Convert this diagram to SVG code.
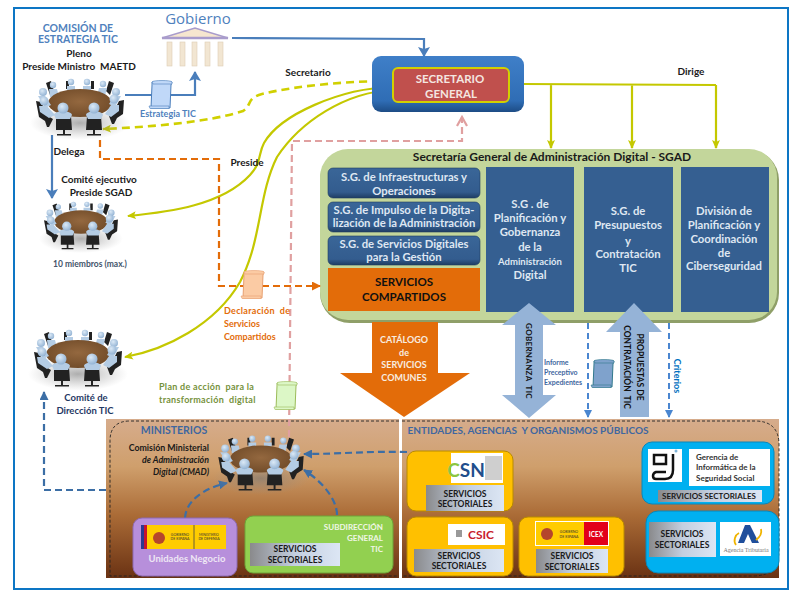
<svg xmlns="http://www.w3.org/2000/svg" width="798" height="592" viewBox="0 0 798 592">
<style>
text{font-family:Lato,"Liberation Sans",sans-serif;text-anchor:middle;white-space:pre}
.b{font-weight:700}
.k{fill:#1a1a1a;font-size:10px;font-weight:700}
.w{fill:#dfe7f2;font-size:11.300px;font-weight:700}
.ss{fill:#1a1a1a;font-size:9.500px;font-weight:700}
.ye{fill:none;stroke:#c4c800;stroke-width:2.200}
.yd{fill:none;stroke:#d0d000;stroke-width:2.600;stroke-dasharray:8 5}
.or{fill:none;stroke:#e36c09;stroke-width:2.200;stroke-dasharray:7 4}
.pk{fill:none;stroke:#e0a0a0;stroke-width:2.200;stroke-dasharray:7 4}
.bd{fill:none;stroke:#3c6ea5;stroke-width:2.200;stroke-dasharray:7 4}
.lb{fill:none;stroke:#4a86d0;stroke-width:2;stroke-dasharray:6 4}
.bl{fill:none;stroke:#4a7ebb;stroke-width:2.200}
.col{fill:#355f91}
.sub{fill:url(#sec);stroke:#1f3d63;stroke-width:.6}
.pan{fill:url(#brown)}
.dash{fill:none;stroke:#222;stroke-width:.9;stroke-dasharray:3 2}
.ssb{fill:url(#grayblue)}
.yl{fill:#ffc000;stroke:#b88a00;stroke-width:1}
.cy{fill:#00b0f0;stroke:#0a86b8;stroke-width:1}
.head{fill:url(#skin)}
.body{fill:#b4cce4}
.chair{fill:#222}
</style>
<defs>
<linearGradient id="brown" x1="0" y1="0" x2="0" y2="1"><stop offset="0" stop-color="#d6ac8c"/><stop offset=".3" stop-color="#cf9f6c"/><stop offset=".6" stop-color="#ab6c37"/><stop offset="1" stop-color="#6a3213"/></linearGradient>
<linearGradient id="grayblue" x1="0" y1="0" x2="1" y2="0"><stop offset="0" stop-color="#8a8a8c"/><stop offset=".5" stop-color="#c3cfe0"/><stop offset="1" stop-color="#dce6f4"/></linearGradient>
<linearGradient id="sec" x1="0" y1="0" x2="0" y2="1"><stop offset="0" stop-color="#3a6698"/><stop offset=".8" stop-color="#335c8e"/><stop offset="1" stop-color="#1f3d63"/></linearGradient>
<linearGradient id="blbox" x1="0" y1="0" x2="0" y2="1"><stop offset="0" stop-color="#3f7fc8"/><stop offset=".8" stop-color="#2f6db5"/><stop offset="1" stop-color="#1d4c85"/></linearGradient>
<radialGradient id="shadow"><stop offset="0" stop-color="#777" stop-opacity=".6"/><stop offset="1" stop-color="#999" stop-opacity="0"/></radialGradient>
<radialGradient id="skin" cx=".4" cy=".35" r=".7"><stop offset="0" stop-color="#dbe9f6"/><stop offset="1" stop-color="#8fb0d2"/></radialGradient>
<radialGradient id="wood" cx=".5" cy=".45" r=".6"><stop offset="0" stop-color="#94683f"/><stop offset="1" stop-color="#6f4a28"/></radialGradient>
<marker id="aY" markerWidth="9" markerHeight="8" refX="8" refY="4" orient="auto" markerUnits="userSpaceOnUse"><path d="M0 0L9 4L0 8L2 4Z" fill="#c4c800"/></marker>
<marker id="aO" markerWidth="9" markerHeight="9" refX="8" refY="4.500" orient="auto" markerUnits="userSpaceOnUse"><path d="M0 0L9 4.500L0 9Z" fill="#e36c09"/></marker>
<marker id="aP" markerWidth="12" markerHeight="12" refX="10" refY="6" orient="auto" markerUnits="userSpaceOnUse"><path d="M1 1L10 6L1 11" fill="none" stroke="#e0a0a0" stroke-width="2.200"/></marker>
<marker id="aB" markerWidth="12" markerHeight="12" refX="10" refY="6" orient="auto" markerUnits="userSpaceOnUse"><path d="M1 0L11 6L1 12L3 6Z" fill="#4a7ebb"/></marker>
<marker id="aD" markerWidth="9" markerHeight="9" refX="8" refY="4.500" orient="auto" markerUnits="userSpaceOnUse"><path d="M0 0L9 4.500L0 9Z" fill="#3c6ea5"/></marker>
<marker id="aL" markerWidth="8" markerHeight="8" refX="7" refY="4" orient="auto" markerUnits="userSpaceOnUse"><path d="M0 0L8 4L0 8Z" fill="#4a86d0"/></marker>
<g id="table">
<ellipse cx="0" cy="20" rx="50" ry="17" fill="url(#shadow)"/>
<g class="chair"><path d="M-34-20l5-2 3 10-4 4zM34-20l-5-2-3 10 4 4zM-14-22h3v8h-3zM11-22h3v8h-3z"/></g>
<g class="body"><path d="M-31-14h8l2 8h-9zM-13-17h8v6h-8zM3-17h8v6H3zM19-15h8l-2 8h-8z"/></g>
<g class="head"><circle cx="-27" cy="-18" r="3.200"/><circle cx="-9" cy="-21" r="3.200"/><circle cx="7" cy="-21" r="3.200"/><circle cx="23" cy="-19" r="3.200"/></g>
<ellipse cx="0" cy="0" rx="32" ry="14" fill="url(#wood)"/>
<g class="chair"><path d="M-44-2l5 1 7 14 5 3-4 8h-2l-2-6-6-4zM44-3l-5 1-6 12-4 3 3 8h2l3-6 6-4z"/></g>
<g class="body"><path d="M-42-7h7l6 9-6 3zM41-7h-7l-5 8 6 3zM-41 3h8l8 9-6 3-9-6zM39 2h-8l-6 9 6 3 8-6z"/></g>
<g class="head"><circle cx="-37" cy="-11" r="4"/><circle cx="36" cy="-11" r="4"/><circle cx="-36" cy="-2" r="4.500"/><circle cx="34" cy="-4" r="4.500"/></g>
<g class="chair"><path d="M-24 13h15l1 14h-16zM7 13h14l1 14H6zM-17 27h2v4h6v1.500h-14V31h6zM13 27h2v4h6v1.500H7V31h6z"/></g>
<g class="body"><path d="M-26 12c1-5 17-5 18 0l-2 4h-14zM6 12c1-5 16-5 17 0l-2 4H8z"/></g>
<g class="head"><circle cx="-17" cy="5" r="5.500"/><circle cx="14" cy="5" r="5.500"/></g>
</g>
<g id="scroll">
<path d="M3 2h20l-1 3-1 23H2L3 5z" stroke-width="1"/>
<path d="M3 2c0-2 20-2 20 0v2H4zM0 26h20v2.500H1z" stroke-width=".6"/>
</g>
</defs>
<rect width="798" height="592" fill="#fff"/>
<rect id="frame" x="14" y="8" width="774" height="581" fill="none" stroke="#0d76c4" stroke-width="2"/>

<g id="panel-ministerios"><rect class="pan" x="106" y="419" width="293" height="159"/><path class="dash" d="M399 421H130q-20 0-20 20V576H399"/>
<text x="174" y="434" fill="#3f67a0" font-size="10.500" class="b">MINISTERIOS</text>
<text x="209" y="451" fill="#1a1a1a" font-size="8.800" class="b" style="text-anchor:end">Comisión Ministerial</text>
<text x="209" y="463" fill="#1a1a1a" font-size="8.800" class="b" font-style="italic" style="text-anchor:end">de Administración</text>
<text x="209" y="475" fill="#1a1a1a" font-size="8.800" class="b" font-style="italic" style="text-anchor:end">Digital (CMAD)</text></g>
<g id="panel-entidades"><rect class="pan" x="402" y="419" width="377" height="159"/><path class="dash" d="M402 421H755q24 0 24 24V550q0 26-26 26H402"/>
<text x="528" y="434" fill="#3f67a0" font-size="10" class="b">ENTIDADES, AGENCIAS  Y ORGANISMOS PÚBLICOS</text></g>

<g id="node-sgad"><rect x="320" y="150" width="459" height="173" rx="30" fill="#8f9f68"/><rect x="320" y="149" width="457" height="171" rx="28" fill="#c3d69b"/>
<text x="552" y="161" class="b" font-size="12" fill="#1a1a1a">Secretaría General de Administración Digital - SGAD</text></g>
<g id="node-infra"><rect class="sub" x="328" y="168" width="152" height="30" rx="5"/><text class="w" x="404" y="181">S.G. de Infraestructuras y</text><text class="w" x="404" y="195">Operaciones</text></g>
<g id="node-impulso"><rect class="sub" x="328" y="202" width="152" height="30" rx="5"/><text class="w" x="404" y="214">S.G. de Impulso de la Digita-</text><text class="w" x="404" y="227">lización de la Administración</text></g>
<g id="node-servicios"><rect class="sub" x="328" y="236" width="152" height="29" rx="5"/><text class="w" x="404" y="248">S.G. de Servicios Digitales</text><text class="w" x="404" y="261">para la Gestión</text></g>
<g id="node-compartidos"><rect x="328" y="268" width="152" height="43" fill="#e36c09"/><text x="404" y="286" class="b" font-size="11.500" fill="#111">SERVICIOS</text><text x="404" y="301" class="b" font-size="11.500" fill="#111">COMPARTIDOS</text></g>
<g id="node-planif"><rect class="col" x="486" y="167" width="88" height="145"/>
<text class="w" x="530" y="208">S.G . de</text><text class="w" x="530" y="222">Planificación y</text><text class="w" x="530" y="236">Gobernanza</text><text class="w" x="530" y="251">de la</text><text class="w" x="530" y="265" style="font-size:9.500px">Administración</text><text class="w" x="530" y="279">Digital</text></g>
<g id="node-presup"><rect class="col" x="584" y="167" width="89" height="145"/>
<text class="w" x="628" y="215">S.G. de</text><text class="w" x="628" y="229">Presupuestos</text><text class="w" x="628" y="245">y</text><text class="w" x="628" y="258">Contratación</text><text class="w" x="628" y="272">TIC</text></g>
<g id="node-division"><rect class="col" x="681" y="167" width="88" height="145"/>
<text class="w" x="724" y="215">División de</text><text class="w" x="724" y="229">Planificación y</text><text class="w" x="724" y="243">Coordinación</text><text class="w" x="724" y="257">de</text><text class="w" x="724" y="270">Ciberseguridad</text></g>

<g id="connectors">
<path class="bl" d="M232 38L424 39V56" marker-end="url(#aB)"/>
<path class="bl" d="M125 95H195V72" stroke-width="2.400" marker-end="url(#aB)"/>
<path class="bl" d="M52 135V198" stroke-width="2.400" marker-end="url(#aB)"/>
<path class="yd" d="M393 81C350 81 300 85 262 94C246 98 252 106 243 111C210 122 150 127 103 129" marker-end="url(#aY)"/>
<path class="ye" d="M393 87C340 88 280 115 264 143C258 154 262 162 250 175C222 205 170 212 128 216" marker-end="url(#aY)"/>
<path class="ye" d="M393 90C345 92 300 122 277 157C258 195 262 240 240 282C215 325 165 350 125 357" marker-end="url(#aY)"/>
<path class="ye" d="M524 84L716 85M551 84V148M632 85V148M716 85V148"/>
<path class="ye" d="M551 140V148" marker-end="url(#aY)"/><path class="ye" d="M632 140V148" marker-end="url(#aY)"/><path class="ye" d="M716 140V148" marker-end="url(#aY)"/>
<path class="or" d="M100 140V159H219V286H320" marker-end="url(#aO)"/>
<path class="pk" d="M289 437L292 141H462V117" marker-end="url(#aP)"/>
<path class="bd" d="M106 490H44V392" marker-end="url(#aD)"/>
<path class="bd" d="M407 452C370 451 340 454 304 454" marker-end="url(#aD)"/>
<path class="bd" d="M185 518C186 500 205 488 227 483" marker-end="url(#aD)"/>
<path class="bd" d="M337 515C337 498 320 480 304 470" marker-end="url(#aD)"/>
<path class="lb" d="M588 323V417" marker-end="url(#aL)"/>
<path class="lb" d="M669 323V417" marker-end="url(#aL)"/>
</g>

<g id="node-gobierno">
<text x="198" y="24" font-size="15" fill="#4f81bd" style="font-family:'Open Sans',Lato,sans-serif">Gobierno</text>
<path d="M162 38L195 28L228 38Z" fill="#f6e6cf" stroke="#a99ccc" stroke-width="1.500"/>
<path d="M162 38H228" stroke="#a99ccc" stroke-width="2.500"/>
<g fill="#f2e6d2" stroke="#dccdb4" stroke-width=".6"><rect x="167" y="42" width="5" height="24"/><rect x="180" y="42" width="5" height="24"/><rect x="192" y="42" width="5" height="24"/><rect x="205" y="42" width="5" height="24"/><rect x="218" y="42" width="5" height="24"/></g>
</g>

<g id="node-secretario"><rect x="372" y="56" width="152" height="56" rx="9" fill="url(#blbox)"/><rect x="393" y="68" width="116" height="34" rx="5" fill="#c0504d" stroke="#d2d000" stroke-width="2"/>
<text x="450" y="83" class="b" font-size="11.500" fill="#f4e6e0">SECRETARIO</text><text x="451" y="98" class="b" font-size="11.500" fill="#f4e6e0">GENERAL</text></g>

<g id="node-estrategia">
<text x="78" y="32" class="b" font-size="10.500" fill="#4f81bd">COMISIÓN DE</text><text x="78" y="43" class="b" font-size="10.500" fill="#4f81bd">ESTRATEGIA TIC</text>
<text x="79" y="57" class="k">Pleno</text><text x="79" y="70" class="k">Preside Ministro  MAETD</text>
<use href="#table" x="80" y="103"/></g>
<g id="node-ejecutivo">
<text x="99" y="183" class="k">Comité ejecutivo</text><text x="101" y="196" class="k">Preside SGAD</text>
<use href="#table" transform="translate(81 222) scale(.84)"/>
<text x="90" y="267" font-size="8.500" class="b" fill="#44546a">10 miembros (max.)</text></g>
<g id="node-direccion"><use href="#table" x="78" y="354"/>
<text x="86" y="401" class="b" font-size="9.500" fill="#1f3864">Comité de</text><text x="85" y="414" class="b" font-size="9.500" fill="#1f3864">Dirección TIC</text></g>
<g id="node-cmad"><use href="#table" transform="translate(261 459) scale(.97)"/></g>

<g id="doc-estrategia"><use href="#scroll" x="149" y="80" fill="#c0d8f8" stroke="#4a7ebb"/><text x="168" y="117" font-size="9" class="b" fill="#4f81bd">Estrategia TIC</text></g>
<g id="doc-declaracion"><use href="#scroll" x="241" y="270" fill="#fbcba4" stroke="#e8a070"/>
<text x="224" y="314" font-size="9" class="b" fill="#e36c09" style="text-anchor:start" letter-spacing=".3">Declaración  de</text><text x="224" y="327" font-size="9" class="b" fill="#e36c09" style="text-anchor:start">Servicios</text><text x="224" y="340" font-size="9" class="b" fill="#e36c09" style="text-anchor:start">Compartidos</text></g>
<g id="doc-plan"><use href="#scroll" x="274" y="381" fill="#dcf7c6" stroke="#9bbb59"/>
<text x="159" y="390" font-size="9" class="b" fill="#76923c" style="text-anchor:start" letter-spacing=".3">Plan de acción  para la</text><text x="159" y="403" font-size="9" class="b" fill="#76923c" style="text-anchor:start" letter-spacing=".3">transformación  digital</text></g>
<g id="doc-informe"><use href="#scroll" x="591" y="359" fill="#7fa2cc" stroke="#31788c"/>
<text x="544" y="365" font-size="7" class="b" fill="#3f67a0" style="text-anchor:start">Informe</text><text x="544" y="375" font-size="7" class="b" fill="#3f67a0" style="text-anchor:start">Preceptivo</text><text x="544" y="385" font-size="7" class="b" fill="#3f67a0" style="text-anchor:start">Expedientes</text></g>

<g id="node-catalogo"><path d="M372 322H438V373H470L404 417L340 373H372Z" fill="#e36c09"/>
<text x="404" y="343" class="b" font-size="9" fill="#f8ede0">CATÁLOGO</text><text x="404" y="356" class="b" font-size="9" fill="#f8ede0">de</text><text x="404" y="368" class="b" font-size="9" fill="#f8ede0">SERVICIOS</text><text x="404" y="381" class="b" font-size="9" fill="#f8ede0">COMUNES</text></g>
<g id="node-gobernanza"><path d="M529 303L556 325H543V395H556L529 418L502 395H515V325H502Z" fill="#95b3d7"/>
<text transform="translate(529 361) rotate(90)" dy="3" class="b" font-size="8" fill="#111" letter-spacing=".3">GOBERNANZA  TIC</text></g>
<g id="node-propuestas"><path d="M634 303L662 332H649V417H620V332H606Z" fill="#95b3d7"/>
<text transform="translate(640 367) rotate(90)" dy="3" class="b" font-size="8.500" fill="#111">PROPUESTAS DE</text>
<text transform="translate(627 367) rotate(90)" dy="3" class="b" font-size="8.500" fill="#111">CONTRATACIÓN  TIC</text></g>
<text transform="translate(677 376) rotate(90)" dy="3" class="b" font-size="9" fill="#0070c0">Criterios</text>

<g id="node-unidades"><rect x="133" y="518" width="104" height="58" rx="9" fill="#b78fdb" stroke="#8e6bb5"/>
<rect x="141" y="525" width="85" height="24" fill="#ffcc00"/><rect x="141" y="525" width="3" height="24" fill="#2b3990"/><rect x="144" y="525" width="3" height="24" fill="#c8102e"/>
<circle cx="159" cy="538" r="6" fill="#b5452c"/><path d="M194 525V549" stroke="#444" stroke-width=".8"/>
<text x="180" y="536" font-size="3.500" fill="#333">GOBIERNO</text><text x="180" y="540" font-size="3.500" fill="#333">DE ESPAÑA</text><text x="209" y="536" font-size="3.500" fill="#333">MINISTERIO</text><text x="209" y="540" font-size="3.500" fill="#333">DE DEFENSA</text>
<text x="187" y="562" class="b" font-size="9.500" fill="#eee6f4">Unidades Negocio</text></g>
<g id="node-subdireccion"><rect x="245" y="516" width="148" height="57" rx="8" fill="#92d050" stroke="#6ea338"/>
<text x="383" y="530" font-size="8" class="b" fill="#f0f6e6" style="text-anchor:end">SUBDIRECCIÓN</text><text x="383" y="541" font-size="8" class="b" fill="#f0f6e6" style="text-anchor:end">GENERAL</text><text x="383" y="552" font-size="8" class="b" fill="#f0f6e6" style="text-anchor:end">TIC</text>
<rect class="ssb" x="250" y="543" width="90" height="23"/><text class="ss" x="295" y="552" style="font-size:8.500px">SERVICIOS</text><text class="ss" x="295" y="563" style="font-size:8.500px">SECTORIALES</text></g>
<g id="node-csn"><rect class="yl" x="407" y="451" width="106" height="60" rx="9"/><rect x="451" y="453" width="52" height="30" fill="#fff"/>
<text x="466" y="477" font-size="19" class="b" fill="#1f4e8c"><tspan fill="#8cc63f">C</tspan>SN</text><rect x="485" y="456" width="17" height="24" fill="#cfcfcf"/>
<rect class="ssb" x="426" y="485" width="78" height="26"/><text class="ss" x="465" y="497" style="font-size:8.500px">SERVICIOS</text><text class="ss" x="465" y="507" style="font-size:8.500px">SECTORIALES</text></g>
<g id="node-csic"><rect class="yl" x="407" y="517" width="106" height="59" rx="9"/><rect x="448" y="524" width="57" height="21" fill="#fff"/>
<text x="481" y="539" font-size="12" class="b" fill="#c8202c">CSIC</text><rect x="456" y="530" width="6" height="7" fill="#999"/>
<rect class="ssb" x="414" y="549" width="90" height="23"/><text class="ss" x="459" y="559" style="font-size:8.500px">SERVICIOS</text><text class="ss" x="459" y="569" style="font-size:8.500px">SECTORIALES</text></g>
<g id="node-icex"><rect class="yl" x="519" y="517" width="105" height="59" rx="9"/><rect x="535" y="521" width="74" height="25" fill="#fff"/><rect x="536" y="522" width="49" height="23" fill="#ffcc00"/><rect x="584" y="522" width="24" height="23" fill="#e2001a"/>
<circle cx="547" cy="534" r="6" fill="#b5452c"/><text x="569" y="533" font-size="3.500" fill="#333">GOBIERNO</text><text x="569" y="538" font-size="3.500" fill="#333">DE ESPAÑA</text><text x="596" y="537" font-size="6.500" class="b" fill="#fff">ICEX</text>
<rect class="ssb" x="536" y="549" width="72" height="24"/><text class="ss" x="572" y="559" style="font-size:8.500px">SERVICIOS</text><text class="ss" x="572" y="570" style="font-size:8.500px">SECTORIALES</text></g>
<g id="node-gerencia"><rect class="cy" x="642" y="442" width="132" height="62" rx="10"/><rect x="648" y="449" width="34" height="33" fill="#fff"/>
<path d="M654 455h12v9h-12zM673 454v16q0 9-8 9h-9q-3 0-3-3t3-4h10" fill="none" stroke="#111" stroke-width="2.500"/><circle cx="676" cy="451" r="1.500" fill="#7fb4d8"/>
<rect x="689" y="449" width="81" height="37" fill="#fff"/>
<g class="b" font-size="8" fill="#333"><text x="696" y="460" style="text-anchor:start">Gerencia de</text><text x="696" y="470" style="text-anchor:start">Informática de la</text><text x="696" y="481" style="text-anchor:start">Seguridad Social</text></g>
<rect class="ssb" x="658" y="490" width="104" height="12"/><text class="ss" x="709" y="499" style="font-size:8px">SERVICIOS SECTORIALES</text></g>
<g id="node-tributaria"><rect class="cy" x="646" y="511" width="133" height="62" rx="12"/><rect class="ssb" x="649" y="522" width="67" height="35"/><text class="ss" x="682" y="537" style="font-size:8.500px">SERVICIOS</text><text class="ss" x="682" y="548" style="font-size:8.500px">SECTORIALES</text>
<rect x="720" y="522" width="51" height="34" fill="#fff"/><path d="M745 525h5l9 18h-7l-4-9-4 9h-6z" fill="#1f4e9c"/><path d="M736 545c-3-4-1-10 3-12M756 540c4-3 6-7 5-11" fill="none" stroke="#f0b400" stroke-width="1.800"/>
<text x="746" y="552" font-size="6" fill="#777" style="font-family:'Liberation Serif',serif">Agencia Tributaria</text></g>

<text x="308" y="76" class="k">Secretario</text>
<text x="691" y="75" class="k">Dirige</text>
<text x="247" y="166" class="k">Preside</text>
<text x="69" y="155" class="k">Delega</text>
</svg>
